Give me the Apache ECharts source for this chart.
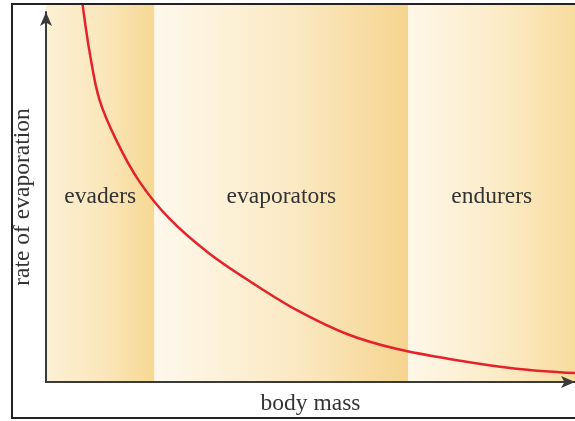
<!DOCTYPE html>
<html>
<head>
<meta charset="utf-8">
<script src="https://cdn.jsdelivr.net/npm/echarts@6/dist/echarts.min.js"></script>
<style>
  html, body { margin: 0; padding: 0; background: #fff; }
  #chart { width: 575px; height: 421px; }
</style>
</head>
<body>
<div id="chart"></div>
<script>
// zones along the body mass axis
const bandNames = ['evaders', 'evaporators', 'endurers'];
const bandEdges = [0, 20.5, 68.5, 100];

// red curve
const massValues = [6.9, 8.3, 10.1, 13.3, 17.6, 23.3, 30.8, 39.2, 47.7, 57.0, 66.4, 77.7, 88.9, 100];
const evapValues = [102.2, 88.7, 76.3, 65.3, 54.3, 44.2, 34.8, 26.6, 19.2, 12.9, 8.9, 5.9, 3.6, 2.4];

// band gradients, light on the left, tan on the right
const bandColors = [
  ['#fcf0d4', '#fae6ba', '#f7d893'],
  ['#fef8ec', '#fbe9c3', '#f5d48f'],
  ['#fef7e8', '#fbebc6', '#f8dc9e']
];

const serif = '"Liberation Serif", "DejaVu Serif", serif';

const bandData = bandNames.map((name, i) => [bandEdges[i], bandEdges[i + 1], name]);
const curveData = massValues.map((m, i) => [m, evapValues[i]]);

const myChart = echarts.init(document.getElementById('chart'));

myChart.setOption({
  animation: false,
  grid: { left: 46, right: -4, top: 12, bottom: 37 },
  graphic: [
    {
      type: 'rect',
      shape: { x: 12, y: 4, width: 620, height: 414 },
      style: { fill: 'none', stroke: '#222', lineWidth: 2 },
      z: 10
    }
  ],
  xAxis: {
    type: 'value',
    min: 0,
    max: 100,
    z: 5,
    name: 'body mass',
    nameLocation: 'middle',
    nameGap: 10,
    nameTextStyle: { fontFamily: serif, fontSize: 23.5, color: '#333' },
    axisLine: {
      show: true,
      symbol: ['none', 'arrow'],
      symbolSize: [9, 14],
      lineStyle: { color: '#3a3a3a', width: 2 }
    },
    axisTick: { show: false },
    axisLabel: { show: false },
    splitLine: { show: false }
  },
  yAxis: {
    type: 'value',
    min: 0,
    max: 100,
    z: 5,
    name: 'rate of evaporation',
    nameLocation: 'middle',
    nameGap: 11,
    nameTextStyle: { fontFamily: serif, fontSize: 23.5, color: '#333' },
    axisLine: {
      show: true,
      symbol: ['none', 'arrow'],
      symbolSize: [9, 14],
      lineStyle: { color: '#3a3a3a', width: 2 }
    },
    axisTick: { show: false },
    axisLabel: { show: false },
    splitLine: { show: false }
  },
  series: [
    {
      type: 'custom',
      clip: false,
      z: 1,
      data: bandData,
      renderItem: (params, api) => {
        const cs = params.coordSys;
        const p0 = api.coord([api.value(0), 0]);
        const p1 = api.coord([api.value(1), 0]);
        const top = cs.y - 8;
        const c = bandColors[params.dataIndex];
        return {
          type: 'group',
          children: [
            {
              type: 'rect',
              shape: { x: p0[0], y: top, width: p1[0] - p0[0], height: p0[1] - top },
              style: {
                fill: new echarts.graphic.LinearGradient(0, 0, 1, 0, [
                  { offset: 0, color: c[0] },
                  { offset: 0.55, color: c[1] },
                  { offset: 1, color: c[2] }
                ])
              }
            },
            {
              type: 'text',
              style: {
                text: bandNames[params.dataIndex],
                x: (p0[0] + p1[0]) / 2,
                y: cs.y + cs.height * 0.5,
                align: 'center',
                verticalAlign: 'middle',
                fontSize: 23.5,
                fontFamily: serif,
                fill: '#333'
              }
            }
          ]
        };
      }
    },
    {
      type: 'line',
      clip: false,
      z: 3,
      smooth: 0.35,
      symbol: 'none',
      data: curveData,
      lineStyle: { color: '#e3222b', width: 2.5 }
    }
  ]
});
</script>
</body>
</html>
